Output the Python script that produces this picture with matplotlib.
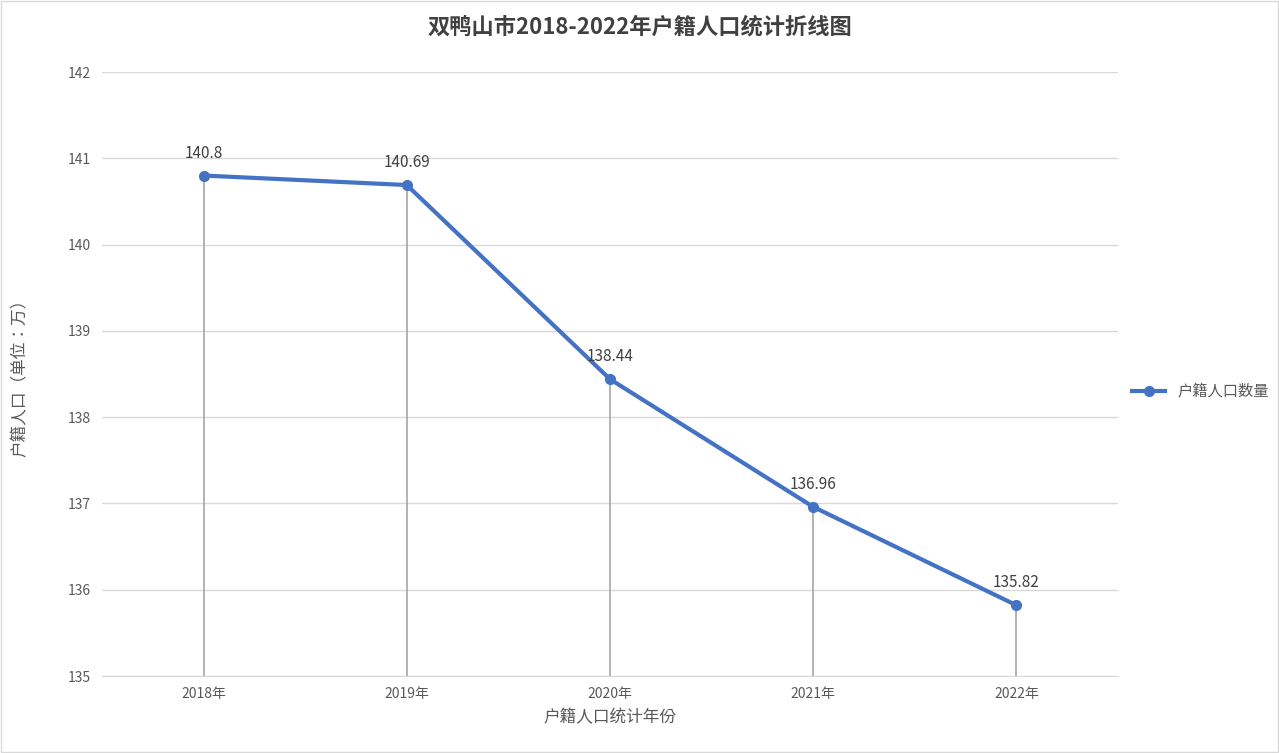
import matplotlib.pyplot as plt
from matplotlib import font_manager
import numpy as np

# pick whatever CJK font is actually registered
cjk = [f.name for f in font_manager.fontManager.ttflist if 'CJK' in f.name]
plt.rcParams['font.family'] = ['Noto Sans CJK SC', 'Noto Sans CJK JP'] + cjk[:1] + ['DejaVu Sans']

years = ['2018年', '2019年', '2020年', '2021年', '2022年']
population = [140.8, 140.69, 138.44, 136.96, 135.82]
labels = ['140.8', '140.69', '138.44', '136.96', '135.82']

fig = plt.figure(figsize=(12.79, 7.53), dpi=100)
ax = fig.add_axes([102/1279, 1-676/753, (1118-102)/1279, (676-72)/753])

x = np.arange(len(years))
ax.vlines(x, 135, population, color='#a6a6a6', linewidth=1.2, zorder=2)
ax.plot(x, population, color='#4472c4', linewidth=3, marker='o', markersize=7,
        label='户籍人口数量', zorder=3)
for xi, yi, t in zip(x, population, labels):
    ax.annotate(t, (xi, yi), xytext=(0, 10), textcoords='offset points',
                ha='center', va='bottom', fontsize=11, color='#404040')

ax.set_xlim(-0.5, 4.5)
ax.set_ylim(135, 142)
ax.set_yticks(range(135, 143))
ax.set_xticks(x)
ax.set_xticklabels(years)
ax.tick_params(length=0, labelsize=10, colors='#595959', pad=8)
ax.grid(axis='y', color='#d9d9d9', linewidth=1)
ax.set_axisbelow(True)
for s in ['top', 'right', 'left']:
    ax.spines[s].set_visible(False)
ax.spines['bottom'].set_color('#d9d9d9')

ax.set_xlabel('户籍人口统计年份', fontsize=12, color='#595959', labelpad=6)
ax.set_ylabel('户籍人口（单位：万）', fontsize=12, color='#595959', labelpad=28)
fig.suptitle('双鸭山市2018-2022年户籍人口统计折线图', fontsize=16, fontweight='bold',
             color='#404040', y=0.98)

ax.legend(loc='center left', bbox_to_anchor=(1.0, 0.47), frameon=False,
          fontsize=11, labelcolor='#595959', handlelength=2.2)

fig.patches.append(plt.Rectangle((0.001, 0.001), 0.998, 0.998, transform=fig.transFigure,
                                 fill=False, edgecolor='#d9d9d9', linewidth=1))
fig.savefig('out.png', dpi=100)
